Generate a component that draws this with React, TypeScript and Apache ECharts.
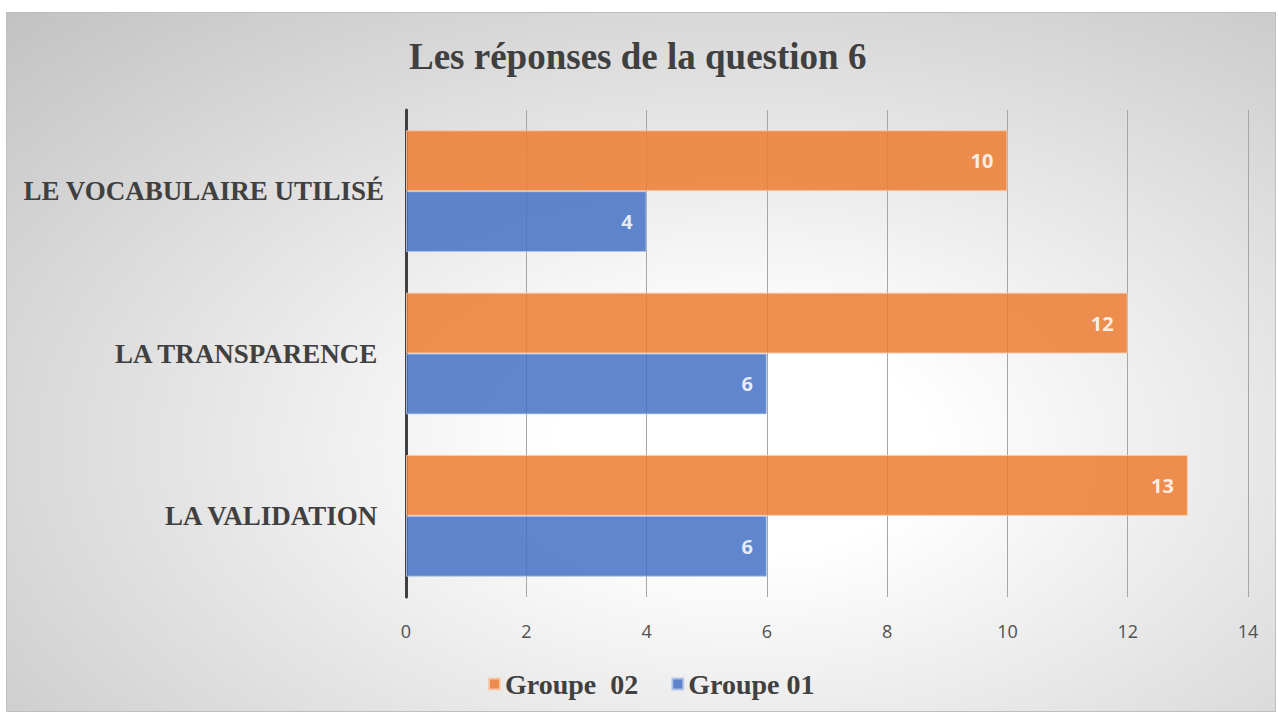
import React, { useEffect, useRef } from "react";
import * as echarts from "echarts";

const categories = ["LA VALIDATION ", "LA TRANSPARENCE ", "LE VOCABULAIRE UTILISÉ"];
const groupe02 = [13, 12, 10];
const groupe01 = [6, 6, 4];
const seriesNames = ["Groupe  02", "Groupe 01"];
const titleText = "Les réponses de la question 6";

export default function App() {
  const ref = useRef<HTMLDivElement>(null);

  useEffect(() => {
    document.body.style.margin = "0";
    if (!ref.current) return;
    const chart = echarts.init(ref.current, null, { renderer: "svg" });
    const labelStyle = {
      show: true,
      position: "insideRight",
      distance: 14,
      color: "#ffffff",
      fontFamily: "'Open Sans', 'Liberation Sans', sans-serif",
      fontWeight: "bold",
      fontSize: 20,
    };
    chart.setOption({
      animation: false,
      backgroundColor: "transparent",
      title: {
        text: titleText,
        left: 397,
        top: 20,
        textStyle: {
          fontFamily: "'Liberation Serif', 'Times New Roman', serif",
          fontWeight: "bold",
          fontSize: 37,
          color: "#404040",
        },
      },
      legend: {
        data: seriesNames,
        left: 476,
        top: 652,
        itemWidth: 11,
        itemHeight: 11,
        itemGap: 33,
        icon: "rect",
        textStyle: {
          fontFamily: "'Liberation Serif', 'Times New Roman', serif",
          fontWeight: "bold",
          fontSize: 28,
          color: "#404040",
        },
      },
      grid: { left: 399, right: 27, top: 97, bottom: 114, containLabel: false },
      xAxis: {
        type: "value",
        min: 0,
        max: 14,
        interval: 2,
        axisLine: { show: false },
        axisTick: { show: false },
        splitLine: { show: true, lineStyle: { color: "#a6a6a6", width: 1 } },
        axisLabel: {
          margin: 25,
          color: "#505050",
          fontSize: 18,
          fontFamily: "'Open Sans', 'Liberation Sans', sans-serif",
        },
      },
      yAxis: {
        type: "category",
        data: categories,
        axisLine: { show: true, lineStyle: { color: "#404040", width: 3 } },
        axisTick: { show: false },
        axisLabel: {
          margin: 22,
          color: "#404040",
          fontSize: 27,
          fontWeight: "bold",
          fontFamily: "'Liberation Serif', 'Times New Roman', serif",
        },
      },
      series: [
        {
          name: seriesNames[0],
          type: "bar",
          data: groupe02,
          barGap: "0%",
          barCategoryGap: "25%",
          itemStyle: { color: "#ED7D31", opacity: 0.85, borderColor: "#f8cbad", borderWidth: 1 },
          label: labelStyle,
        },
        {
          name: seriesNames[1],
          type: "bar",
          data: groupe01,
          barGap: "0%",
          barCategoryGap: "25%",
          itemStyle: { color: "#4472C4", opacity: 0.85, borderColor: "#b4c7e7", borderWidth: 1 },
          label: labelStyle,
        },
      ],
    });
    return () => chart.dispose();
  }, []);

  return (
    <div style={{ position: "relative", width: 1279, height: 715, background: "#ffffff" }}>
      <div
        style={{
          position: "absolute",
          left: 6,
          top: 12,
          width: 1268,
          height: 698,
          border: "1px solid #bfbfbf",
          background:
            "radial-gradient(ellipse farthest-corner at 58% 62%, #ffffff 0%, #ffffff 18%, #c2c2c2 100%)",
        }}
      >
        <div ref={ref} style={{ width: 1268, height: 698 }} />
      </div>
    </div>
  );
}
